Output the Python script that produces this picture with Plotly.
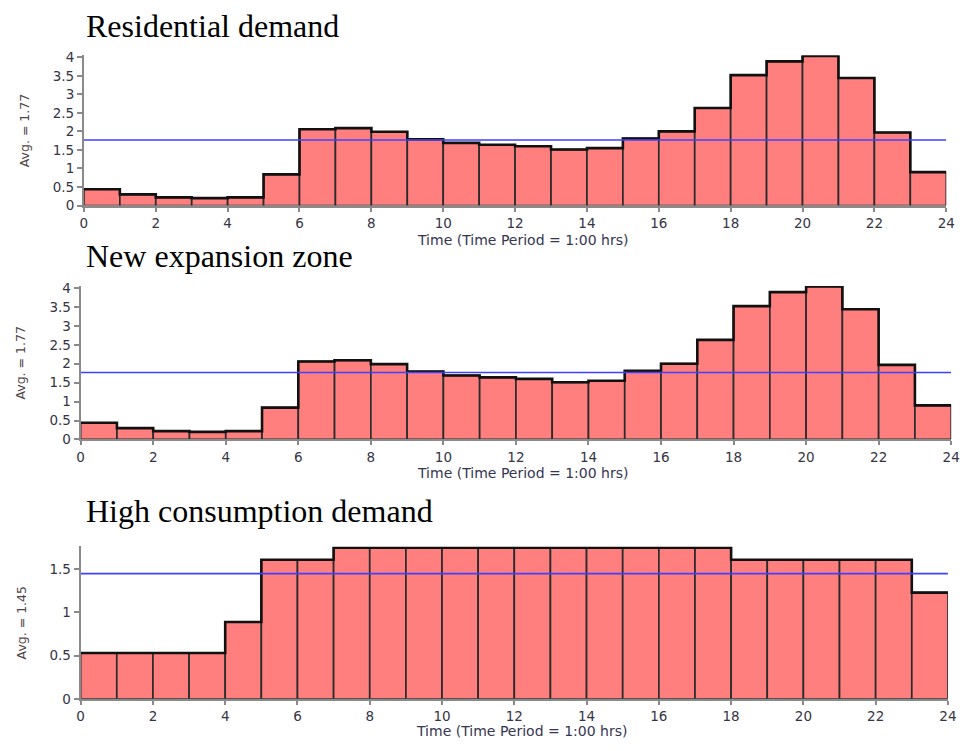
import plotly.graph_objects as go

# Hourly load profiles (24 one-hour periods)
hours = list(range(25))
residential = [0.44, 0.30, 0.22, 0.20, 0.22, 0.84, 2.06, 2.09, 1.99, 1.79, 1.69, 1.64,
               1.60, 1.51, 1.55, 1.81, 2.00, 2.63, 3.52, 3.89, 4.04, 3.44, 1.97, 0.90]
expansion = [0.44, 0.30, 0.22, 0.20, 0.22, 0.84, 2.06, 2.09, 1.99, 1.79, 1.69, 1.64,
             1.60, 1.51, 1.55, 1.81, 2.00, 2.63, 3.52, 3.89, 4.04, 3.44, 1.97, 0.90]
high_consumption = [0.53, 0.53, 0.53, 0.53, 0.89, 1.61, 1.61, 1.75, 1.75, 1.75, 1.75, 1.75,
                    1.75, 1.75, 1.75, 1.75, 1.75, 1.75, 1.61, 1.61, 1.61, 1.61, 1.61, 1.23]

titles = ["Residential demand", "New expansion zone", "High consumption demand"]
averages = [1.77, 1.77, 1.45]
series = [residential, expansion, high_consumption]
x_ticks = list(range(0, 25, 2))
y_ticks = [[0, 0.5, 1, 1.5, 2, 2.5, 3, 3.5, 4], [0, 0.5, 1, 1.5, 2, 2.5, 3, 3.5, 4], [0, 0.5, 1, 1.5]]
y_ranges = [[0, 4.05], [0, 4.05], [0, 1.765]]

W, H = 974, 751
# panel geometry in pixels: (left, right, top, bottom)
panels = [(81, 955, 50.4, 203.3), (77.7, 960, 285.4, 441.7), (77.7, 956.7, 550.7, 706)]
title_y = [20, 255, 514.5]
xtitle_pos = [(526, 238), (526, 476), (525, 739)]
ytitle_x = [21, 17, 18]

BAR_FILL = "#FF7F7F"
SANS = "DejaVu Sans, Verdana, sans-serif"
TICK_FONT = dict(family=SANS, size=13.5, color="#353545")

fig = go.Figure()
layout = dict(width=W, height=H, margin=dict(l=0, r=0, t=0, b=0),
              paper_bgcolor="white", plot_bgcolor="white", showlegend=False,
              annotations=[])

for i, (vals, avg) in enumerate(zip(series, averages)):
    k = "" if i == 0 else str(i + 1)
    xa, ya = "x" + k, "y" + k
    centers = [h + 0.5 for h in hours[:-1]]
    fig.add_trace(go.Bar(x=centers, y=vals, width=1, xaxis=xa, yaxis=ya,
                         marker=dict(color=BAR_FILL, line=dict(color="#2b2b2b", width=1.7)),
                         hoverinfo="skip"))
    # heavy outline along the top of the histogram
    fig.add_trace(go.Scatter(x=hours, y=vals + [vals[-1]], mode="lines", xaxis=xa, yaxis=ya,
                             line=dict(color="#111111", width=2.6, shape="hv"), hoverinfo="skip"))
    # average level
    fig.add_trace(go.Scatter(x=[hours[0], hours[-1]], y=[avg, avg], mode="lines",
                             xaxis=xa, yaxis=ya, line=dict(color="#4040ff", width=1.6),
                             hoverinfo="skip"))

    left, right, top, bottom = panels[i]
    layout["xaxis" + k] = dict(domain=[left / W, right / W], range=[0, 24], anchor=ya,
                               tickvals=x_ticks, ticks="outside", ticklen=4, tickwidth=1.5,
                               tickcolor="#8a8a8a", showline=True, linecolor="#8a8a8a",
                               linewidth=2, showgrid=False, zeroline=False, tickfont=TICK_FONT)
    layout["yaxis" + k] = dict(domain=[1 - bottom / H, 1 - top / H], range=y_ranges[i],
                               anchor=xa, tickvals=y_ticks[i],
                               ticktext=[f"{v:g}" for v in y_ticks[i]], ticks="outside",
                               ticklen=5, tickwidth=1.5, tickcolor="#8a8a8a", showline=True,
                               linecolor="#8a8a8a", linewidth=2, showgrid=False,
                               zeroline=False, tickfont=TICK_FONT)

    layout["annotations"].append(dict(
        text=titles[i], x=81 / W, y=1 - title_y[i] / H, xref="paper", yref="paper",
        xanchor="left", yanchor="middle", showarrow=False,
        font=dict(family="Times New Roman, Liberation Serif, serif", size=32, color="black")))
    xt, yt = xtitle_pos[i]
    layout["annotations"].append(dict(
        text="Time (Time Period = 1:00 hrs)", x=xt / W, y=1 - yt / H, xref="paper",
        yref="paper", xanchor="center", yanchor="middle", showarrow=False,
        font=dict(family=SANS, size=14, color="#353550")))
    layout["annotations"].append(dict(
        text=f"Avg. = {avg:.2f}", x=ytitle_x[i] / W, y=1 - (top + bottom) / 2 / H,
        xref="paper", yref="paper", xanchor="center", yanchor="middle", textangle=-90,
        showarrow=False, font=dict(family=SANS, size=12.5, color="#504545")))

fig.update_layout(**layout)
fig.write_html("out.html")
